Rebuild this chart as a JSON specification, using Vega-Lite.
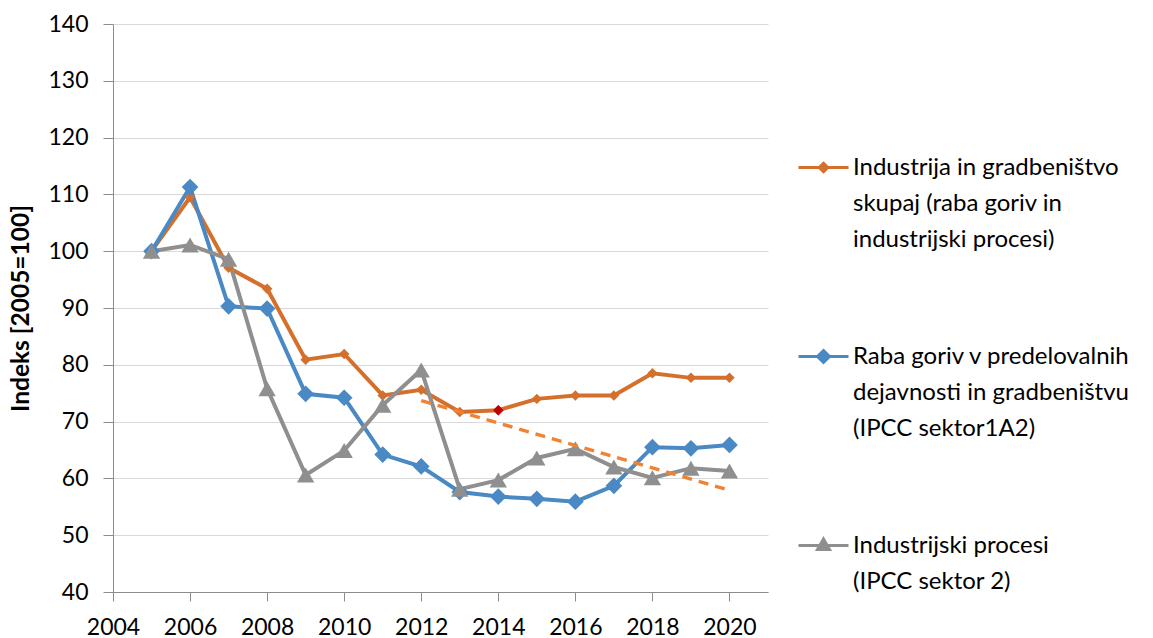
{
  "$schema": "https://vega.github.io/schema/vega-lite/v6.json",
  "width": 655,
  "height": 568,
  "autosize": {"type": "none"},
  "padding": {"left": 113, "top": 24, "right": 385, "bottom": 46},
  "background": "white",
  "config": {
    "view": {"stroke": null},
    "font": "Lato",
    "axis": {"labelFont": "Lato", "titleFont": "Lato"}
  },
  "datasets": {
    "main": [
      {"year": 2005, "series": "Industrija in gradbeništvo skupaj (raba goriv in industrijski procesi)", "value": 100},
      {"year": 2006, "series": "Industrija in gradbeništvo skupaj (raba goriv in industrijski procesi)", "value": 109.5},
      {"year": 2007, "series": "Industrija in gradbeništvo skupaj (raba goriv in industrijski procesi)", "value": 97.1},
      {"year": 2008, "series": "Industrija in gradbeništvo skupaj (raba goriv in industrijski procesi)", "value": 93.4},
      {"year": 2009, "series": "Industrija in gradbeništvo skupaj (raba goriv in industrijski procesi)", "value": 80.9},
      {"year": 2010, "series": "Industrija in gradbeništvo skupaj (raba goriv in industrijski procesi)", "value": 81.9},
      {"year": 2011, "series": "Industrija in gradbeništvo skupaj (raba goriv in industrijski procesi)", "value": 74.6},
      {"year": 2012, "series": "Industrija in gradbeništvo skupaj (raba goriv in industrijski procesi)", "value": 75.6},
      {"year": 2013, "series": "Industrija in gradbeništvo skupaj (raba goriv in industrijski procesi)", "value": 71.7},
      {"year": 2014, "series": "Industrija in gradbeništvo skupaj (raba goriv in industrijski procesi)", "value": 72.0},
      {"year": 2015, "series": "Industrija in gradbeništvo skupaj (raba goriv in industrijski procesi)", "value": 74.0},
      {"year": 2016, "series": "Industrija in gradbeništvo skupaj (raba goriv in industrijski procesi)", "value": 74.6},
      {"year": 2017, "series": "Industrija in gradbeništvo skupaj (raba goriv in industrijski procesi)", "value": 74.6},
      {"year": 2018, "series": "Industrija in gradbeništvo skupaj (raba goriv in industrijski procesi)", "value": 78.5},
      {"year": 2019, "series": "Industrija in gradbeništvo skupaj (raba goriv in industrijski procesi)", "value": 77.7},
      {"year": 2020, "series": "Industrija in gradbeništvo skupaj (raba goriv in industrijski procesi)", "value": 77.7},
      {"year": 2005, "series": "Raba goriv v predelovalnih dejavnosti in gradbeništvu (IPCC sektor1A2)", "value": 100},
      {"year": 2006, "series": "Raba goriv v predelovalnih dejavnosti in gradbeništvu (IPCC sektor1A2)", "value": 111.3},
      {"year": 2007, "series": "Raba goriv v predelovalnih dejavnosti in gradbeništvu (IPCC sektor1A2)", "value": 90.3},
      {"year": 2008, "series": "Raba goriv v predelovalnih dejavnosti in gradbeništvu (IPCC sektor1A2)", "value": 89.9},
      {"year": 2009, "series": "Raba goriv v predelovalnih dejavnosti in gradbeništvu (IPCC sektor1A2)", "value": 74.9},
      {"year": 2010, "series": "Raba goriv v predelovalnih dejavnosti in gradbeništvu (IPCC sektor1A2)", "value": 74.2},
      {"year": 2011, "series": "Raba goriv v predelovalnih dejavnosti in gradbeništvu (IPCC sektor1A2)", "value": 64.2},
      {"year": 2012, "series": "Raba goriv v predelovalnih dejavnosti in gradbeništvu (IPCC sektor1A2)", "value": 62.1},
      {"year": 2013, "series": "Raba goriv v predelovalnih dejavnosti in gradbeništvu (IPCC sektor1A2)", "value": 57.6},
      {"year": 2014, "series": "Raba goriv v predelovalnih dejavnosti in gradbeništvu (IPCC sektor1A2)", "value": 56.8},
      {"year": 2015, "series": "Raba goriv v predelovalnih dejavnosti in gradbeništvu (IPCC sektor1A2)", "value": 56.4},
      {"year": 2016, "series": "Raba goriv v predelovalnih dejavnosti in gradbeništvu (IPCC sektor1A2)", "value": 55.9},
      {"year": 2017, "series": "Raba goriv v predelovalnih dejavnosti in gradbeništvu (IPCC sektor1A2)", "value": 58.7},
      {"year": 2018, "series": "Raba goriv v predelovalnih dejavnosti in gradbeništvu (IPCC sektor1A2)", "value": 65.5},
      {"year": 2019, "series": "Raba goriv v predelovalnih dejavnosti in gradbeništvu (IPCC sektor1A2)", "value": 65.3},
      {"year": 2020, "series": "Raba goriv v predelovalnih dejavnosti in gradbeništvu (IPCC sektor1A2)", "value": 65.9},
      {"year": 2005, "series": "Industrijski procesi (IPCC sektor 2)", "value": 100},
      {"year": 2006, "series": "Industrijski procesi (IPCC sektor 2)", "value": 101.1},
      {"year": 2007, "series": "Industrijski procesi (IPCC sektor 2)", "value": 98.6},
      {"year": 2008, "series": "Industrijski procesi (IPCC sektor 2)", "value": 75.8},
      {"year": 2009, "series": "Industrijski procesi (IPCC sektor 2)", "value": 60.6},
      {"year": 2010, "series": "Industrijski procesi (IPCC sektor 2)", "value": 64.9},
      {"year": 2011, "series": "Industrijski procesi (IPCC sektor 2)", "value": 72.9},
      {"year": 2012, "series": "Industrijski procesi (IPCC sektor 2)", "value": 79.1},
      {"year": 2013, "series": "Industrijski procesi (IPCC sektor 2)", "value": 58.1},
      {"year": 2014, "series": "Industrijski procesi (IPCC sektor 2)", "value": 59.7},
      {"year": 2015, "series": "Industrijski procesi (IPCC sektor 2)", "value": 63.6},
      {"year": 2016, "series": "Industrijski procesi (IPCC sektor 2)", "value": 65.2},
      {"year": 2017, "series": "Industrijski procesi (IPCC sektor 2)", "value": 62.0},
      {"year": 2018, "series": "Industrijski procesi (IPCC sektor 2)", "value": 60.1},
      {"year": 2019, "series": "Industrijski procesi (IPCC sektor 2)", "value": 61.8},
      {"year": 2020, "series": "Industrijski procesi (IPCC sektor 2)", "value": 61.3}
    ],
    "trend": [
      {"year": 2012, "value": 73.7},
      {"year": 2020, "value": 57.9}
    ]
  },
  "encoding": {
    "x": {
      "field": "year", "type": "quantitative",
      "scale": {"domain": [2004, 2021], "nice": false, "zero": false},
      "axis": {
        "values": [2004, 2006, 2008, 2010, 2012, 2014, 2016, 2018, 2020],
        "format": "d", "title": null, "grid": false, "labelFlush": false, "labelOverlap": false,
        "domainColor": "#8c8c8c", "tickColor": "#8c8c8c", "tickSize": 9,
        "labelFontSize": 23, "labelColor": "#000", "labelPadding": 15
      }
    },
    "y": {
      "field": "value", "type": "quantitative",
      "scale": {"domain": [40, 140], "nice": false, "zero": false},
      "axis": {
        "values": [40, 50, 60, 70, 80, 90, 100, 110, 120, 130, 140],
        "title": "Indeks [2005=100]", "titleFontSize": 24.5, "titleFontWeight": "bold", "titleColor": "#000",
        "titlePadding": 14,
        "grid": true, "gridColor": "#d9d9d9", "gridWidth": 1.2,
        "domainColor": "#8c8c8c", "tickColor": "#8c8c8c", "tickSize": 10,
        "labelFontSize": 23, "labelColor": "#000", "labelPadding": 15
      }
    }
  },
  "layer": [
    {
      "data": {"name": "main"},
      "mark": {"type": "line", "strokeWidth": 4},
      "encoding": {
        "color": {
          "field": "series", "type": "nominal",
          "scale": {
            "domain": [
              "Industrija in gradbeništvo skupaj (raba goriv in industrijski procesi)",
              "Raba goriv v predelovalnih dejavnosti in gradbeništvu (IPCC sektor1A2)",
              "Industrijski procesi (IPCC sektor 2)"
            ],
            "range": ["#D4702C", "#4A89C4", "#8F8F8F"]
          },
          "legend": {
            "orient": "none", "legendX": 684, "legendY": 117,
            "title": null,
            "labelFont": "Lato", "labelFontSize": 24, "labelColor": "#000", "labelLimit": 400,
            "labelOffset": 3,
            "symbolSize": 2500, "symbolStrokeWidth": 3,
            "rowPadding": 78,
            "labelExpr": "datum.label == 'Industrija in gradbeništvo skupaj (raba goriv in industrijski procesi)' ? ['Industrija in gradbeništvo','skupaj (raba goriv in','industrijski procesi)'] : datum.label == 'Raba goriv v predelovalnih dejavnosti in gradbeništvu (IPCC sektor1A2)' ? ['Raba goriv v predelovalnih','dejavnosti in gradbeništvu','(IPCC sektor1A2)'] : ['Industrijski procesi','(IPCC sektor 2)']",
            "encode": {
              "labels": {"update": {"lineHeight": {"value": 36}}}
            }
          }
        }
      }
    },
    {
      "data": {"name": "main"},
      "transform": [{"filter": "datum.year < 0"}],
      "mark": {"type": "point", "filled": true, "opacity": 1},
      "encoding": {
        "color": {"field": "series", "type": "nominal"},
        "stroke": {
          "field": "series", "type": "nominal",
          "scale": {
            "domain": [
              "Industrija in gradbeništvo skupaj (raba goriv in industrijski procesi)",
              "Raba goriv v predelovalnih dejavnosti in gradbeništvu (IPCC sektor1A2)",
              "Industrijski procesi (IPCC sektor 2)"
            ],
            "range": ["#D4702C", "#4A89C4", "#8F8F8F"]
          }
        },
        "shape": {
          "field": "series", "type": "nominal",
          "scale": {
            "domain": [
              "Industrija in gradbeništvo skupaj (raba goriv in industrijski procesi)",
              "Raba goriv v predelovalnih dejavnosti in gradbeništvu (IPCC sektor1A2)",
              "Industrijski procesi (IPCC sektor 2)"
            ],
            "range": ["M-1,0H1M0,-0.17L0.17,0L0,0.17L-0.17,0Z", "M-1,0H1M0,-0.24L0.24,0L0,0.24L-0.24,0Z", "M-1,0H1M0,-0.26L0.24,0.16H-0.24Z"]
          }
        }
      }
    },
    {
      "data": {"name": "main"},
      "transform": [{"filter": "datum.series == 'Industrija in gradbeništvo skupaj (raba goriv in industrijski procesi)'"}],
      "mark": {"type": "point", "shape": "diamond", "filled": true, "opacity": 1, "color": "#D4702C", "size": 110}
    },
    {
      "data": {"name": "main"},
      "transform": [{"filter": "datum.year == 2014 && datum.series == 'Industrija in gradbeništvo skupaj (raba goriv in industrijski procesi)'"}],
      "mark": {"type": "point", "shape": "diamond", "filled": true, "opacity": 1, "color": "#C00000", "size": 110}
    },
    {
      "data": {"name": "main"},
      "transform": [{"filter": "datum.series == 'Raba goriv v predelovalnih dejavnosti in gradbeništvu (IPCC sektor1A2)'"}],
      "mark": {"type": "point", "shape": "diamond", "filled": true, "opacity": 1, "color": "#4A89C4", "size": 280}
    },
    {
      "data": {"name": "main"},
      "transform": [{"filter": "datum.series == 'Industrijski procesi (IPCC sektor 2)'"}],
      "mark": {"type": "point", "shape": "triangle-up", "filled": true, "opacity": 1, "color": "#8F8F8F", "size": 300}
    },
    {
      "data": {"name": "trend"},
      "mark": {"type": "line", "color": "#F08232", "strokeWidth": 3.5, "strokeDash": [10, 7]}
    }
  ]
}
